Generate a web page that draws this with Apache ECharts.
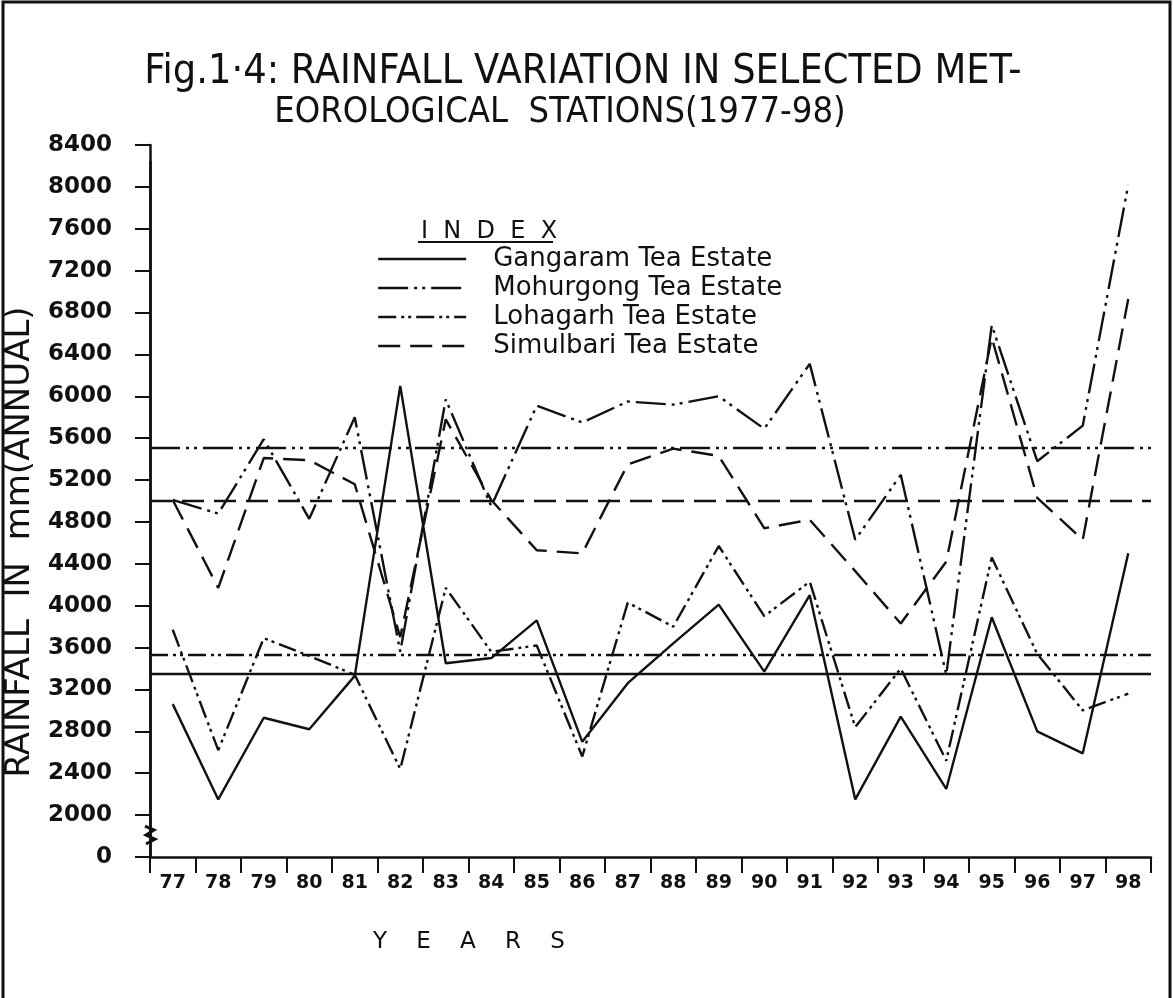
<!DOCTYPE html>
<html>
<head>
<meta charset="utf-8">
<script src="https://cdn.jsdelivr.net/npm/echarts@6/dist/echarts.min.js"></script>
<style>
  html, body { margin: 0; padding: 0; background: #ffffff; }
  #chart { width: 1173px; height: 998px; }
</style>
</head>
<body>
<div id="chart"></div>
<script>
// Annual rainfall (mm) at four tea-estate stations, 1977-98
const years = ['77','78','79','80','81','82','83','84','85','86','87',
               '88','89','90','91','92','93','94','95','96','97','98'];

const gangaram  = [3060, 2150, 2930, 2820, 3330, 6100, 3450, 3500, 3860, 2700, 3260,
                   3640, 4010, 3370, 4100, 2150, 2940, 2250, 3890, 2800, 2590, 4500];
const mohurgong = [5010, 4880, 5590, 4830, 5800, 3560, 5970, 4950, 5910, 5750, 5950,
                   5920, 6000, 5690, 6310, 4630, 5250, 3340, 6680, 5380, 5720, 8020];
const lohagarh  = [3770, 2620, 3690, 3520, 3340, 2440, 4170, 3560, 3620, 2560, 4030,
                   3800, 4570, 3900, 4230, 2840, 3400, 2520, 4460, 3540, 3000, 3160];
const simulbari = [5010, 4170, 5410, 5390, 5160, 3700, 5780, 5010, 4530, 4500, 5350,
                   5500, 5430, 4740, 4820, 4330, 3830, 4420, 6560, 5030, 4630, 6930];

const stationNames = ['Gangaram Tea Estate', 'Mohurgong Tea Estate',
                      'Lohagarh Tea Estate', 'Simulbari Tea Estate'];
// long-term average rainfall drawn as a horizontal reference per station
const stationMeans = [3350, 5510, 3530, 5005];

// axis range: the lowest gridline stands for 0 (broken axis below 2000)
const yMin = 1600, yMax = 8400, yStep = 400;

const INK = '#111111';
const FONT = 'DejaVu Sans';
const dashStyles = [
  'solid',
  [30, 6, 3, 5, 3, 6],
  [18, 5, 3, 4, 3, 5],
  [22, 10]
];
const values = [gangaram, mohurgong, lohagarh, simulbari];

const chart = echarts.init(document.getElementById('chart'), null, { renderer: 'canvas' });

const series = stationNames.map((name, i) => ({
  name: name,
  type: 'line',
  data: values[i],
  symbol: 'none',
  showSymbol: false,
  animation: false,
  lineStyle: { color: INK, width: 2.4, type: dashStyles[i] },
  itemStyle: { color: INK },
  markLine: {
    silent: true,
    animation: false,
    symbol: ['none', 'none'],
    label: { show: false },
    lineStyle: { color: INK, width: 2.4, type: dashStyles[i] },
    data: [{ yAxis: stationMeans[i] }]
  }
}));

const titleFont = {
  fontFamily: 'DejaVu Sans Condensed',
  fontWeight: 'normal',
  fontSize: 41,
  color: INK
};

const option = {
  backgroundColor: '#ffffff',
  animation: false,
  title: [
    {
      text: 'Fig.1·4: RAINFALL VARIATION IN SELECTED MET-',
      left: 578,
      top: 47,
      textAlign: 'center',
      textStyle: titleFont
    },
    {
      text: 'EOROLOGICAL  STATIONS(1977-98)',
      left: 555,
      top: 90,
      textAlign: 'center',
      textStyle: Object.assign({}, titleFont, { fontSize: 36 })
    },
    {
      text: 'I  N  D  E  X',
      left: 416,
      top: 215,
      textStyle: { fontFamily: FONT, fontWeight: 'normal', fontSize: 24, color: INK }
    },
    {
      text: 'Y    E    A    R    S',
      left: 368,
      top: 926,
      textStyle: { fontFamily: FONT, fontWeight: 'normal', fontSize: 23, color: INK }
    }
  ],
  legend: {
    orient: 'vertical',
    left: 372,
    top: 240,
    itemWidth: 88,
    itemHeight: 14,
    itemGap: 1,
    data: stationNames,
    selectedMode: false,
    itemStyle: { opacity: 0 },
    lineStyle: { width: 2.4 },
    textStyle: { fontFamily: FONT, fontSize: 26, lineHeight: 28, color: INK, padding: [0, 0, 0, 22] }
  },
  grid: [
    { left: 150, right: 22, top: 145, bottom: 141, outerBoundsMode: 'none' },
    { left: 150, right: 22, top: 162, bottom: 141, outerBoundsMode: 'none' }
  ],
  xAxis: [
    {
      type: 'category',
      data: years,
      boundaryGap: true,
      axisLine: { lineStyle: { color: INK, width: 2.5 } },
      axisTick: { show: true, length: 16, alignWithLabel: false, lineStyle: { color: INK, width: 2 } },
      axisLabel: { fontFamily: FONT, fontWeight: 'bold', fontSize: 19, color: INK, margin: 17 },
      splitLine: { show: false }
    },
    { gridIndex: 1, type: 'value', show: false, min: 0, max: 1 }
  ],
  yAxis: [
    {
      type: 'value',
      min: yMin,
      max: yMax,
      interval: yStep,
      name: 'RAINFALL  IN  mm(ANNUAL)',
      nameLocation: 'middle',
      nameRotate: 90,
      nameGap: 108,
      nameTextStyle: { fontFamily: FONT, fontSize: 34, color: INK, padding: [0, 82, 0, 0] },
      axisLine: { show: true, lineStyle: { color: INK, width: 2.5 } },
      axisTick: { show: true, length: 15, lineStyle: { color: INK, width: 2 } },
      axisLabel: {
        fontFamily: FONT, fontWeight: 'bold', fontSize: 23, color: INK, margin: 38,
        formatter: v => (v === yMin ? '0' : String(v))
      },
      splitLine: { show: false }
    },
    {
      gridIndex: 1,
      type: 'value',
      position: 'right',
      min: 0,
      max: 1,
      axisLine: { show: true, lineStyle: { color: INK, width: 2.5 } },
      axisTick: { show: false },
      axisLabel: { show: false },
      splitLine: { show: false }
    }
  ],
  series: series
};

chart.setOption(option);

// decorations: figure frame, INDEX underline, axis-break mark
const yBreak = chart.convertToPixel({ yAxisIndex: 0 }, 1800);
const axisX = 150;
chart.setOption({
  graphic: [
    {
      type: 'rect',
      shape: { x: 3, y: 2, width: 1167, height: 1020 },
      style: { fill: 'none', stroke: INK, lineWidth: 3 },
      silent: true
    },
    {
      type: 'line',
      shape: { x1: 418, y1: 242, x2: 553, y2: 242 },
      style: { stroke: INK, lineWidth: 2 },
      silent: true
    },
    {
      type: 'polyline',
      shape: { points: [[axisX - 5, yBreak - 10], [axisX + 4, yBreak - 6], [axisX - 4, yBreak - 1], [axisX + 5, yBreak + 3], [axisX - 4, yBreak + 8]] },
      style: { stroke: INK, lineWidth: 3, fill: 'none' },
      silent: true
    }
  ]
});
</script>
</body>
</html>
